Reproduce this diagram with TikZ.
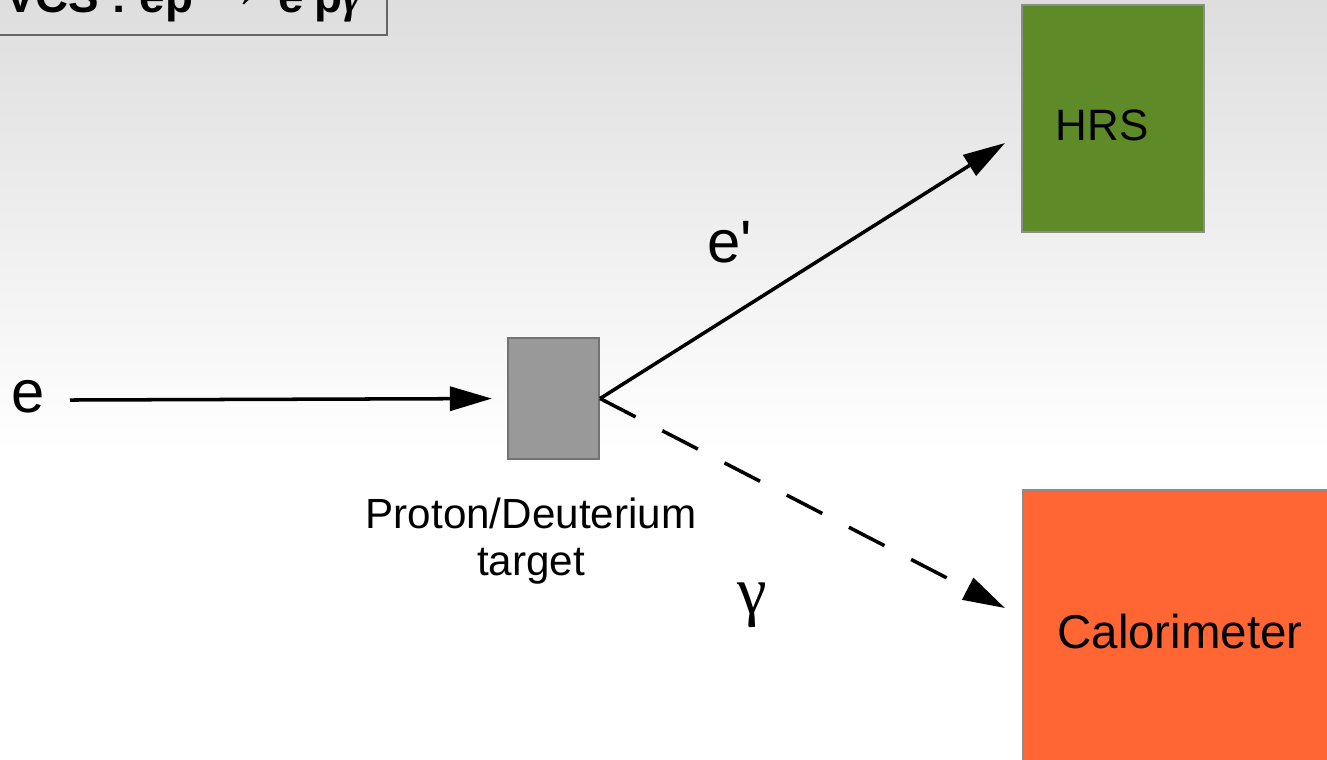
\documentclass[tikz,border=0pt]{standalone}
\usepackage{fontspec}
\setmainfont{Liberation Sans}
\newfontfamily\greekfont{Liberation Serif}
\usetikzlibrary{arrows.meta,calc}

\definecolor{hrsgreen}{HTML}{5E8A28}
\definecolor{caloorange}{HTML}{FF6633}
\definecolor{targetgray}{HTML}{999999}

\tikzset{
	detector/.style={draw=black!45, line width=0.6pt, inner sep=0pt},
	particle/.style={line width=1.0pt, -{Triangle[length=0.42cm, width=0.24cm]}},
	lbl/.style={inner sep=0pt, font=\fontsize{17}{20}\selectfont}
}

\begin{document}
\begin{tikzpicture}[x=0.01cm, y=-0.01cm]
	\useasboundingbox (0,0) rectangle (1327,759);
	\clip (0,0) rectangle (1327,759);
	% background
	\shade[top color=black!13, bottom color=white] (0,0) rectangle (1327,450);
	\fill[white] (0,450) rectangle (1327,759);

	% title box, cut by the page edge
	\node[draw=black!60, line width=0.6pt, anchor=south east, minimum width=4.2cm, minimum height=0.8cm, inner sep=0pt] (title) at (388,36) {};
	\node[anchor=base east, inner sep=0pt, font=\bfseries\fontsize{13}{16}\selectfont] (titletext) at (362,12) {VCS : ep \raisebox{0.1em}{\scalebox{1.3}{→}} e\textquotesingle p{\greekfont\itshape γ}};

	% target and detectors
	\node[detector, fill=targetgray, draw=black!55, minimum width=0.91cm, minimum height=1.21cm] (target) at (553.5,398.5) {};
	\node[detector, fill=hrsgreen, minimum width=1.82cm, minimum height=2.27cm] (hrs) at (1113,118.5) {};
	\node[font=\fontsize{12.5}{15}\selectfont] (hrslabel) at (1102,125) {HRS};
	\node[detector, fill=caloorange, minimum width=3.3cm, minimum height=3cm, anchor=north west] (calo) at (1022,489) {};
	\node[font=\fontsize{13.5}{16}\selectfont] (calolabel) at (1180,632) {Calorimeter};
	\node[align=center, font=\fontsize{12}{13.4}\selectfont] (targetlabel) at (531,541) {Proton/Deuterium\\target};

	% particles
	\node[lbl] (beamlabel) at (28,397) {e};
	\coordinate (beam) at (70,400);
	\coordinate (eout) at (1005,143);
	\coordinate (gout) at (1005,608);
	\draw[particle, shorten >=0.15cm] (beam) -- (target.west);
	\draw[particle] (target.east) -- (eout);
	\draw[particle, dash pattern=on 0.4cm off 0.3cm] (target.east) -- (gout);
	\node[lbl] (eprime) at (730,242) {e\textquotesingle};
	\node[lbl, font=\greekfont\fontsize{19}{22}\selectfont] (gamma) at (752,605) {γ};
\end{tikzpicture}
\end{document}
